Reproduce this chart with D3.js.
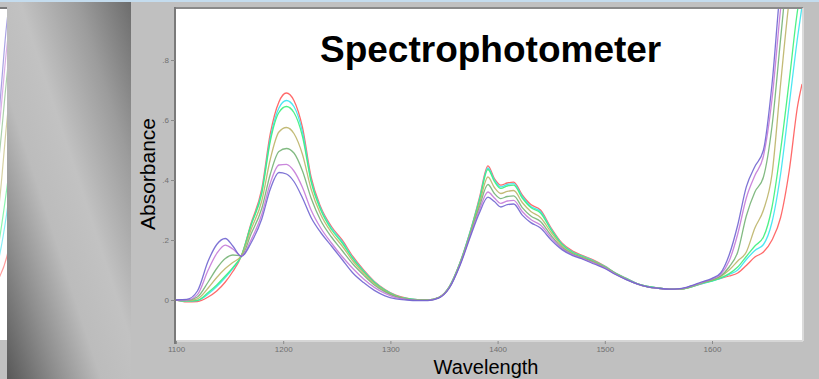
<!DOCTYPE html>
<html>
<head>
<meta charset="utf-8">
<script src="https://cdn.jsdelivr.net/npm/d3@7"></script>
<style>
  html, body { margin: 0; padding: 0; background: #c0c0c0; }
  svg { display: block; }
</style>
</head>
<body>
<div id="chart"></div>
<script>
// wavelength grid (nm) shared by every trace
const wavelengths = [1100,1110,1120,1130,1138,1146,1153,1161,1170,1180,1188,1196,1203,1210,1218,
  1226,1235,1245,1255,1265,1275,1285,1295,1305,1315,1325,1335,1345,1355,1365,1375,1383,1391,1397,
  1403,1409,1415,1423,1431,1440,1450,1460,1470,1480,1490,1500,1510,1520,1530,1540,1550,1560,1570,
  1580,1590,1600,1608,1616,1624,1632,1640,1648,1656,1664,1672,1680,1684];

const redAbs = [0,-.006,-.005,.01,.03, .06,.095,.147,.255,.37, .555,.66,.69,.665,.575,
  .41,.31,.245,.2,.145, .1,.062,.035,.016,.006, .001,0,.008,.045,.125,
  .235,.34,.447,.405,.383, .39,.393,.35,.318,.3, .24,.19,.163,.147,.132,
  .113,.09,.072,.055,.045, .04,.036,.036,.043,.054, .065,.072,.08,.09,.115,
  .143,.16,.2,.275,.43, .65,.72];
const cyanAbs = [0,-.004,-.002,.02,.045, .075,.105,.147,.25,.36, .54,.64,.665,.645,.56,
  .4,.305,.24,.195,.14, .097,.06,.033,.015,.005, .001,0,.008,.045,.125,
  .235,.335,.44,.4,.377, .385,.388,.345,.312,.295, .236,.187,.16,.145,.13,
  .112,.09,.072,.055,.045, .04,.036,.036,.043,.054, .063,.072,.085,.1,.135,
  .165,.185,.26,.42,.65, .88,.98];
const greenAbs = [0,-.003,-.001,.025,.05, .08,.108,.148,.25,.355, .53,.625,.645,.625,.545,
  .395,.3,.235,.19,.137, .095,.058,.032,.014,.005, .001,0,.008,.044,.124,
  .232,.33,.435,.395,.372, .38,.383,.34,.308,.29, .233,.185,.158,.143,.128,
  .111,.089,.071,.055,.045, .04,.036,.036,.043,.055, .064,.074,.088,.11,.145,
  .18,.21,.31,.5,.73, .97,1.05];
const khakiAbs = [0,-.002,.004,.04,.075, .105,.125,.148,.235,.33, .47,.56,.575,.555,.485,
  .37,.285,.225,.18,.13, .09,.055,.03,.013,.004, 0,0,.008,.043,.122,
  .228,.32,.41,.375,.355, .362,.365,.325,.295,.275, .225,.18,.155,.141,.127,
  .11,.088,.07,.054,.044, .039,.036,.036,.044,.056, .066,.078,.1,.13,.16,
  .24,.3,.42,.72,1.0, 1.2,1.3];
const oliveAbs = [0,-.001,.01,.06,.105, .138,.15,.148,.22,.305, .42,.495,.505,.49,.43,
  .34,.265,.21,.165,.12, .083,.05,.027,.011,.003, 0,0,.008,.042,.12,
  .225,.31,.385,.355,.338, .345,.347,.308,.28,.262, .215,.175,.153,.139,.125,
  .108,.087,.069,.054,.044, .039,.036,.037,.045,.057, .068,.08,.11,.16,.28,
  .36,.41,.58,.87,1.15, 1.3,1.4];
const magentaAbs = [0,0,.018,.1,.155, .183,.17,.147,.2,.285, .39,.45,.452,.43,.375,
  .3,.24,.19,.145,.105, .07,.042,.022,.008,.002, -.001,-.001,.007,.041,.118,
  .22,.3,.36,.34,.322, .33,.332,.295,.268,.25, .208,.172,.151,.137,.123,
  .107,.086,.069,.054,.044, .039,.036,.037,.046,.058, .07,.085,.13,.22,.34,
  .415,.48,.67,.97,1.2, 1.35,1.4];
const violetAbs = [0,.002,.03,.13,.185, .205,.18,.145,.19,.27, .37,.425,.42,.395,.34,
  .275,.225,.18,.135,.09, .058,.032,.014,.004,0, -.002,-.002,.006,.04,.116,
  .215,.29,.343,.328,.31, .318,.32,.283,.258,.24, .2,.168,.148,.135,.12,
  .105,.085,.068,.054,.044, .039,.036,.038,.047,.06, .072,.09,.15,.25,.377,
  .445,.5,.72,1.05,1.25, 1.4,1.45];

const seriesNames = ['red', 'cyan', 'green', 'khaki', 'olive', 'magenta', 'violet'];
const seriesValues = [redAbs, cyanAbs, greenAbs, khakiAbs, oliveAbs, magentaAbs, violetAbs];
const seriesColors = ['#ff5a5a', '#38e4f0', '#3cf07a', '#bcb468', '#74b274', '#c47ad8', '#7064d0'];

const xTicks = [1100, 1200, 1300, 1400, 1500, 1600];
const yTicks = [0, 0.2, 0.4, 0.6, 0.8];
const yTickLabels = ['0', '.2', '.4', '.6', '.8'];

const W = 819, H = 379;
const plot = { left: 176, right: 802, top: 9, bottom: 340 };

const svg = d3.select('#chart').append('svg')
  .attr('width', W)
  .attr('height', H);

const defs = svg.append('defs');

// shaded panel on the left
const grad = defs.append('linearGradient')
  .attr('id', 'panelGrad')
  .attr('x1', 1).attr('y1', 0).attr('x2', 0).attr('y2', 1);
[[0, '#6c6c6c'], [0.22, '#9c9c9c'], [0.45, '#c2c2c2'], [0.62, '#bcbcbc'], [0.8, '#8e8e8e'], [1, '#585858']]
  .forEach(s => grad.append('stop').attr('offset', s[0]).attr('stop-color', s[1]));

defs.append('clipPath').attr('id', 'plotClip')
  .append('rect')
  .attr('x', plot.left).attr('y', plot.top)
  .attr('width', plot.right - plot.left).attr('height', plot.bottom - plot.top);

defs.append('clipPath').attr('id', 'stripClip')
  .append('rect')
  .attr('x', 0).attr('y', 9).attr('width', 7).attr('height', 331);

svg.append('rect').attr('width', W).attr('height', H).attr('fill', '#c0c0c0');

svg.append('rect')
  .attr('x', 7).attr('y', 0).attr('width', 124).attr('height', H)
  .attr('fill', 'url(#panelGrad)');

// scales
const x = d3.scaleLinear()
  .domain([1100, 1100 + (plot.right - plot.left) / 1.072])
  .range([plot.left, plot.right]);

const y = d3.scaleLinear()
  .domain([0, 0.2])
  .range([300, 240]);

const line = d3.line()
  .x((d, i) => x(wavelengths[i]))
  .y(d => y(d))
  .curve(d3.curveMonotoneX);

// bit of a neighbouring window on the far left
svg.append('rect')
  .attr('x', 0).attr('y', 9).attr('width', 7).attr('height', 331)
  .attr('fill', '#ffffff');
svg.append('rect')
  .attr('x', 0).attr('y', 7).attr('width', 7).attr('height', 2)
  .attr('fill', '#7a7a7a');
const strip = svg.append('g').attr('clip-path', 'url(#stripClip)')
  .append('g').attr('transform', 'translate(-774,40)');
strip.selectAll('path')
  .data(seriesValues)
  .enter().append('path')
  .attr('d', line)
  .attr('fill', 'none')
  .attr('stroke', (d, i) => seriesColors[i])
  .attr('stroke-opacity', 0.6)
  .attr('stroke-width', 1.2);

// plot window with sunken border
svg.append('rect')
  .attr('x', plot.left).attr('y', plot.top)
  .attr('width', plot.right - plot.left).attr('height', plot.bottom - plot.top)
  .attr('fill', '#ffffff');

svg.append('line')
  .attr('x1', plot.left - 1).attr('x2', plot.right + 1)
  .attr('y1', plot.top - 1).attr('y2', plot.top - 1)
  .attr('stroke', '#8a8a8a').attr('stroke-width', 2);
svg.append('line')
  .attr('x1', plot.right + 1).attr('x2', plot.right + 1)
  .attr('y1', plot.top - 1).attr('y2', plot.bottom + 1)
  .attr('stroke', '#e4e4e4').attr('stroke-width', 1.5);
svg.append('line')
  .attr('x1', plot.left).attr('x2', plot.right + 1)
  .attr('y1', plot.bottom + 1).attr('y2', plot.bottom + 1)
  .attr('stroke', '#dedede').attr('stroke-width', 1.5);

// traces
svg.append('g')
  .attr('clip-path', 'url(#plotClip)')
  .selectAll('.trace')
  .data(seriesValues)
  .enter().append('path')
  .attr('class', 'trace')
  .attr('d', line)
  .attr('fill', 'none')
  .attr('stroke', (d, i) => seriesColors[i])
  .attr('stroke-width', 1.3)
  .attr('stroke-opacity', 0.9);

// axes
const yAxis = d3.axisLeft(y)
  .tickValues(yTicks)
  .tickSize(4)
  .tickPadding(2)
  .tickFormat((d, i) => yTickLabels[i]);

const yAxisG = svg.append('g')
  .attr('transform', `translate(${plot.left - 1},0)`)
  .call(yAxis);
yAxisG.select('.domain')
  .attr('d', `M0,${plot.top - 2}V${plot.bottom + 4}`)
  .attr('stroke', '#7a7a7a')
  .attr('stroke-width', 2);

const xAxis = d3.axisBottom(x)
  .tickValues(xTicks)
  .tickSize(3)
  .tickPadding(2)
  .tickFormat(d3.format('d'));

const xAxisG = svg.append('g')
  .attr('transform', `translate(0,${plot.bottom + 1})`)
  .call(xAxis);
xAxisG.select('.domain').remove();

svg.selectAll('.tick line').attr('stroke', '#8a8a8a');
svg.selectAll('.tick text')
  .attr('fill', '#707070')
  .style('font-family', 'Arial, "Liberation Sans", sans-serif')
  .style('font-size', '8px');

// titles
svg.append('text')
  .attr('x', 320)
  .attr('y', 62)
  .style('font-family', 'Arial, "Liberation Sans", sans-serif')
  .style('font-size', '37px')
  .style('font-weight', 'bold')
  .attr('fill', '#000')
  .text('Spectrophotometer');

svg.append('text')
  .attr('transform', 'translate(155,174) rotate(-90)')
  .attr('text-anchor', 'middle')
  .style('font-family', 'Arial, "Liberation Sans", sans-serif')
  .style('font-size', '21px')
  .attr('fill', '#000')
  .text('Absorbance');

svg.append('text')
  .attr('x', 486)
  .attr('y', 374)
  .attr('text-anchor', 'middle')
  .style('font-family', 'Arial, "Liberation Sans", sans-serif')
  .style('font-size', '20px')
  .attr('fill', '#000')
  .text('Wavelength');

// thin window edge along the top
svg.append('rect')
  .attr('x', 0).attr('y', 0).attr('width', W).attr('height', 2)
  .attr('fill', '#c4dcee');
</script>
</body>
</html>
